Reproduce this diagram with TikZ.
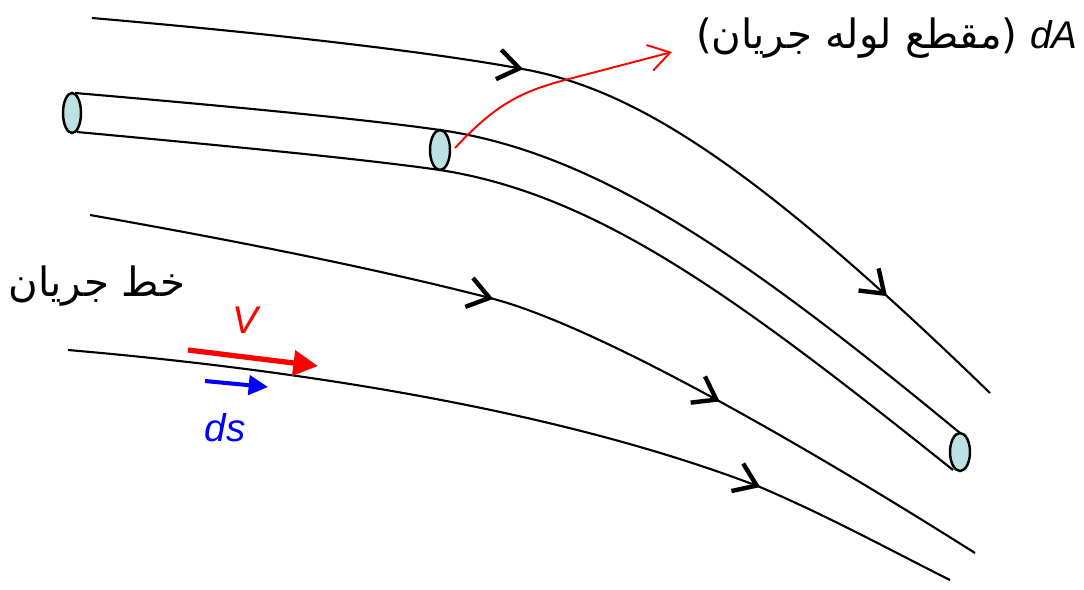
\documentclass[tikz,border=0pt]{standalone}
\usepackage{fontspec}
\setmainfont{Liberation Sans}
\newfontfamily\arabicfont[Script=Arabic]{DejaVu Sans}
\newfontfamily\parenfont{DejaVu Sans}
\TeXXeTstate=1
\usetikzlibrary{arrows.meta,decorations.markings}
\definecolor{capfill}{RGB}{189,224,227}
\tikzset{
  streamline/.style={line width=1.2pt},
  flowarrow/.style={postaction={decorate, decoration={markings,
      mark=at position #1 with {\arrow{Straight Barb[length=12pt,width=17pt,line width=2.5pt]}}}}},
  tubecap/.style={line width=1.4pt, fill=capfill},
  persian/.style={font=\arabicfont\fontsize{23}{26}\selectfont},
  symlabel/.style={font=\fontsize{22}{24}\selectfont\itshape},
}
\begin{document}
\begin{tikzpicture}[x=0.02cm, y=-0.02cm]
  \useasboundingbox (0,0) rectangle (1084,589);
  % streamlines
  \draw[streamline, flowarrow=0.43, flowarrow=0.86]
    (92,18) .. controls (300,36) and (450,55) .. (528,70)
    .. controls (640,92) and (760,170) .. (990,393);
  \draw[streamline, flowarrow=0.43, flowarrow=0.69]
    (90,215) .. controls (300,252) and (420,280) .. (490,298)
    .. controls (600,326) and (820,455) .. (975,553);
  \draw[streamline, flowarrow=0.77]
    (68,350) .. controls (300,370) and (560,410) .. (760,487)
    .. controls (830,517) and (890,550) .. (950,580);
  % stream tube
  \draw[streamline]
    (75,93) .. controls (250,108) and (370,120) .. (440,130)
    .. controls (600,153) and (750,260) .. (960,433);
  \draw[streamline]
    (77,132) .. controls (250,148) and (370,160) .. (440,170)
    .. controls (600,195) and (740,300) .. (953,470);
  \draw[tubecap] (72,113) ellipse [x radius=9, y radius=20];
  \draw[tubecap] (440,150) ellipse [x radius=10, y radius=20];
  \draw[tubecap] (960,452) ellipse [x radius=10, y radius=19];
  % cross-section pointer
  \coordinate (capedge) at (455,148);
  \coordinate (bend) at (565,80);
  \coordinate (pointtip) at (672,52);
  \draw[red, line width=1.1pt, -{Straight Barb[length=12pt,width=15pt]}]
    (capedge) .. controls (495,105) and (520,92) .. (bend) -- (pointtip);
  % velocity and path element
  \coordinate (vtail) at (188,350);
  \coordinate (vhead) at (318,366);
  \draw[red, line width=3pt, -{Triangle[length=14pt,width=14pt]}] (vtail) -- (vhead);
  \coordinate (dstail) at (205,381);
  \coordinate (dshead) at (268,387);
  \draw[blue, line width=2.3pt, -{Triangle[length=11pt,width=11pt]}] (dstail) -- (dshead);
  % labels
  \node[symlabel, red] (vlbl) at (245,320) {V};
  \node[symlabel, blue] (dslbl) at (225,428) {ds};
  \node[persian] (streamlbl) at (97,286) {\beginR خط جریان\endR};
  \node[persian, anchor=east, inner sep=0pt] (tubelbl) at (1018,38)
    {{\parenfont(}\beginR مقطع لوله جریان\endR{\parenfont)}};
  \node[symlabel, anchor=west, inner sep=0pt] (dAlbl) at (1030,35) {dA};
\end{tikzpicture}
\end{document}
